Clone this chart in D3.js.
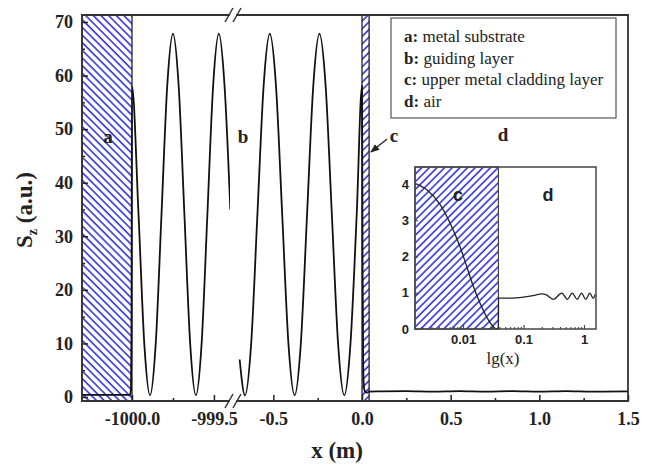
<!DOCTYPE html>
<html lang="en">
<head>
<meta charset="UTF-8">
<title>Sz profile across the waveguide</title>
<script src="https://cdn.jsdelivr.net/npm/d3@7/dist/d3.min.js"></script>
<style>
  body { margin: 0; background: #fff; }
  svg { display: block; }
  .serif { font-family: "Liberation Serif", "Times New Roman", serif; }
  .sans { font-family: "Liberation Sans", Arial, sans-serif; }
</style>
</head>
<body>
<svg id="mainsvg" width="649" height="465"></svg>
<script>
// ---- values ----
// left piece of the broken x axis (metal substrate + start of guiding layer)
const seg1X = [-1000.305, -1000.012, -1000.006, -1000.003, -1000.0, -999.96, -999.925, -999.89, -999.855,
  -999.82, -999.785, -999.75, -999.715, -999.68, -999.645, -999.61, -999.575, -999.54, -999.505, -999.47,
  -999.435, -999.40];
const seg1S = [0.4, 0.4, 1.5, 12, 58, 34, 10, 0.3, 10, 34, 58, 67.8, 58, 34, 10, 0.3, 10, 34, 58, 67.8, 58, 35];

// right piece (end of guiding layer, upper cladding, air)
const seg2X = [-0.69, -0.66, -0.625, -0.59, -0.555, -0.52, -0.485, -0.45, -0.415, -0.38, -0.345, -0.31,
  -0.275, -0.24, -0.205, -0.17, -0.135, -0.10, -0.065, -0.03, 0.0, 0.003, 0.007, 0.012, 0.02, 0.03, 0.04,
  0.1, 0.25, 0.4, 0.55, 0.7, 0.85, 1.0, 1.15, 1.3, 1.5];
const seg2S = [7, 0.3, 10, 34, 58, 67.8, 58, 34, 10, 0.3, 10, 34, 58, 67.8, 58, 34, 10, 0.3, 10, 34, 58,
  25, 5, 1.5, 0.9, 0.8, 1.0, 1.05, 1.1, 1.0, 1.1, 1.0, 1.1, 1.0, 1.1, 1.0, 1.05];

const layerA = [-1000.305, -1000.0];
const layerC = [0.0, 0.04];

const yMajor = [0, 10, 20, 30, 40, 50, 60, 70];
const yMinor = [5, 15, 25, 35, 45, 55, 65];
const seg1Major = [-1000.0, -999.5];
const seg1Minor = [-999.75];
const seg2Major = [-0.5, 0.0, 0.5, 1.0, 1.5];
const seg2Minor = [-0.25, 0.25, 0.75, 1.25];

const legendKeys = ['a:', 'b:', 'c:', 'd:'];
const legendNames = ['metal substrate', 'guiding layer', 'upper metal cladding layer', 'air'];

// inset, log x axis
const insetX = [0.00161, 0.00251, 0.00417, 0.0061, 0.0089, 0.0115, 0.0148, 0.0191, 0.0262, 0.0338, 0.0384,
  0.0385, 0.06, 0.1, 0.144, 0.2, 0.24, 0.31, 0.43, 0.53, 0.64, 0.77, 0.91, 1.07, 1.25, 1.42, 1.54];
const insetS = [4.02, 3.84, 3.43, 2.92, 2.27, 1.72, 1.17, 0.71, 0.25, 0.02, 0.0,
  0.85, 0.85, 0.88, 0.92, 0.97, 0.94, 0.82, 0.99, 0.82, 0.99, 0.82, 0.99, 0.82, 0.99, 0.85, 0.96];
const insetLayerC = [0.0016, 0.0384];
const insetMajorX = [0.01, 0.1, 1];
const insetMinorX = [0.002, 0.003, 0.004, 0.005, 0.006, 0.007, 0.008, 0.009,
  0.02, 0.03, 0.04, 0.05, 0.06, 0.07, 0.08, 0.09, 0.2, 0.3, 0.4, 0.5, 0.6, 0.7, 0.8, 0.9];
const insetMajorY = [0, 1, 2, 3, 4];

// ---- layout ----
const svg = d3.select('#mainsvg');
const frame = {left: 82, right: 628, top: 15, bottom: 401};
const breakL = 229, breakR = 237;
const blue = '#2727dc';
const ink = '#222';

const y = d3.scaleLinear().domain([-0.75, 71.3]).range([frame.bottom, frame.top]);
const x1 = d3.scaleLinear().domain([-1000.305, -999.408]).range([frame.left, breakL]);
const x2 = d3.scaleLinear().domain([-0.705, 1.5]).range([breakR, frame.right]);

// hatch patterns
const defs = svg.append('defs');
const hatch = (id, angle) => {
  const p = defs.append('pattern')
    .attr('id', id)
    .attr('patternUnits', 'userSpaceOnUse')
    .attr('width', 5.4).attr('height', 5.4)
    .attr('patternTransform', `rotate(${angle})`);
  p.append('rect').attr('width', 5.4).attr('height', 5.4).attr('fill', '#fff');
  p.append('line').attr('x1', 1).attr('y1', 0).attr('x2', 1).attr('y2', 5.4)
    .attr('stroke', blue).attr('stroke-width', 1.5);
};
hatch('hatchBack', -45);  // "\\\"
hatch('hatchFwd', 45);    // "///"

defs.append('clipPath').attr('id', 'clip1').append('rect')
  .attr('x', frame.left).attr('y', frame.top)
  .attr('width', breakL - frame.left + 1).attr('height', frame.bottom - frame.top);
defs.append('clipPath').attr('id', 'clip2').append('rect')
  .attr('x', breakR).attr('y', frame.top)
  .attr('width', frame.right - breakR).attr('height', frame.bottom - frame.top);

defs.append('marker').attr('id', 'arrow')
  .attr('viewBox', '0 0 10 10').attr('refX', 9).attr('refY', 5)
  .attr('markerWidth', 7).attr('markerHeight', 7).attr('orient', 'auto')
  .append('path').attr('d', 'M0,1 L10,5 L0,9 Z').attr('fill', ink);

// layers
svg.append('rect')
  .attr('x', x1(layerA[0])).attr('y', frame.top)
  .attr('width', x1(layerA[1]) - x1(layerA[0])).attr('height', frame.bottom - frame.top)
  .attr('fill', 'url(#hatchBack)').attr('stroke', ink).attr('stroke-width', 1.3);
svg.append('rect')
  .attr('x', x2(layerC[0])).attr('y', frame.top)
  .attr('width', x2(layerC[1]) - x2(layerC[0])).attr('height', frame.bottom - frame.top)
  .attr('fill', 'url(#hatchFwd)').attr('stroke', ink).attr('stroke-width', 1.3);

// Sz curve
const line1 = d3.line().x((d, i) => x1(seg1X[i])).y(d => y(d)).curve(d3.curveMonotoneX);
const line2 = d3.line().x((d, i) => x2(seg2X[i])).y(d => y(d)).curve(d3.curveMonotoneX);
svg.append('path').attr('d', line1(seg1S)).attr('clip-path', 'url(#clip1)')
  .attr('fill', 'none').attr('stroke', '#111').attr('stroke-width', 1.8);
svg.append('path').attr('d', line2(seg2S)).attr('clip-path', 'url(#clip2)')
  .attr('fill', 'none').attr('stroke', '#111').attr('stroke-width', 1.8);

// ticks (inward)
const tickFont = g => g.selectAll('text')
  .attr('class', 'serif').style('font-size', '18px').style('font-weight', 'bold').attr('fill', ink);
const clean = g => { g.select('.domain').remove(); g.selectAll('line').attr('stroke', ink).attr('stroke-width', 1.5); };

svg.append('g').attr('transform', `translate(${frame.left},0)`)
  .call(d3.axisLeft(y).tickValues(yMinor).tickSize(-3).tickFormat(''))
  .call(clean);
svg.append('g').attr('transform', `translate(${frame.left},0)`)
  .call(d3.axisLeft(y).tickValues(yMajor).tickSize(-6).tickPadding(9).tickFormat(d3.format('d')))
  .call(clean).call(tickFont);

[[x1, seg1Major, seg1Minor], [x2, seg2Major, seg2Minor]].forEach(([sc, maj, mnr]) => {
  svg.append('g').attr('transform', `translate(0,${frame.bottom})`)
    .call(d3.axisBottom(sc).tickValues(mnr).tickSize(-3).tickFormat(''))
    .call(clean);
  svg.append('g').attr('transform', `translate(0,${frame.bottom})`)
    .call(d3.axisBottom(sc).tickValues(maj).tickSize(-6).tickPadding(11).tickFormat(d => d.toFixed(1)))
    .call(clean).call(tickFont);
});

// frame with axis break
const frameLines = [
  [frame.left, frame.top, frame.left, frame.bottom],
  [frame.right, frame.top, frame.right, frame.bottom],
  [frame.left, frame.top, breakL, frame.top],
  [breakR, frame.top, frame.right, frame.top],
  [frame.left, frame.bottom, breakL, frame.bottom],
  [breakR, frame.bottom, frame.right, frame.bottom]
];
svg.append('g').selectAll('line').data(frameLines).join('line')
  .attr('x1', d => d[0]).attr('y1', d => d[1]).attr('x2', d => d[2]).attr('y2', d => d[3])
  .attr('stroke', '#333').attr('stroke-width', 1.8).attr('stroke-linecap', 'square');
const slashes = [];
[frame.top, frame.bottom].forEach(yy => [breakL, breakR].forEach(xx => slashes.push([xx, yy])));
svg.append('g').selectAll('line').data(slashes).join('line')
  .attr('x1', d => d[0] - 4).attr('y1', d => d[1] + 7)
  .attr('x2', d => d[0] + 4).attr('y2', d => d[1] - 7)
  .attr('stroke', '#333').attr('stroke-width', 1.5);

// axis titles
svg.append('text').attr('class', 'serif')
  .attr('transform', 'translate(32,210) rotate(-90)')
  .attr('text-anchor', 'middle').style('font-size', '23px').style('font-weight', 'bold').attr('fill', ink)
  .html('S<tspan dy="5" style="font-size:14px">z</tspan><tspan dy="-5"> (a.u.)</tspan>');
svg.append('text').attr('class', 'serif')
  .attr('x', 337).attr('y', 458).attr('text-anchor', 'middle')
  .style('font-size', '23px').style('font-weight', 'bold').attr('fill', ink)
  .text('x (m)');

// region labels
const regionText = [['a', 108, 143], ['b', 243, 143], ['c', 394, 142], ['d', 503, 141]];
svg.append('g').selectAll('text').data(regionText).join('text')
  .attr('class', 'serif').attr('x', d => d[1]).attr('y', d => d[2]).attr('text-anchor', 'middle')
  .style('font-size', '19px').style('font-weight', 'bold').attr('fill', ink)
  .text(d => d[0]);
svg.append('line')
  .attr('x1', 387).attr('y1', 139).attr('x2', 371).attr('y2', 152)
  .attr('stroke', ink).attr('stroke-width', 1.3).attr('marker-end', 'url(#arrow)');

// legend
const legend = svg.append('g');
legend.append('rect').attr('x', 391).attr('y', 18).attr('width', 225).attr('height', 100)
  .attr('fill', '#fff').attr('stroke', '#555').attr('stroke-width', 1.2);
legendKeys.forEach((k, i) => {
  const t = legend.append('text').attr('class', 'serif')
    .attr('x', 404).attr('y', 42 + i * 21.7)
    .style('font-size', '17px').attr('fill', ink);
  t.append('tspan').style('font-weight', 'bold').text(k);
  t.append('tspan').text(' ' + legendNames[i]);
});

// ---- inset ----
const inset = {left: 415, right: 596, top: 167, bottom: 329};
const xi = d3.scaleLog().domain([0.0016, 1.58]).range([inset.left, inset.right]);
const yi = d3.scaleLinear().domain([0, 4.47]).range([inset.bottom, inset.top]);
const ig = svg.append('g');
ig.append('rect').attr('x', inset.left).attr('y', inset.top)
  .attr('width', inset.right - inset.left).attr('height', inset.bottom - inset.top).attr('fill', '#fff');
ig.append('rect')
  .attr('x', xi(insetLayerC[0])).attr('y', inset.top)
  .attr('width', xi(insetLayerC[1]) - xi(insetLayerC[0])).attr('height', inset.bottom - inset.top)
  .attr('fill', 'url(#hatchFwd)').attr('stroke', '#444').attr('stroke-width', 1.2);
const lineI = d3.line().x((d, i) => xi(insetX[i])).y(d => yi(d)).curve(d3.curveMonotoneX);
ig.append('path').attr('d', lineI(insetS))
  .attr('fill', 'none').attr('stroke', '#222').attr('stroke-width', 1.3);

const insetTickFont = g => g.selectAll('text')
  .attr('class', 'sans').style('font-size', '13px').style('font-weight', 'bold').attr('fill', ink);
const cleanI = g => { g.select('.domain').remove(); g.selectAll('line').attr('stroke', '#444').attr('stroke-width', 1.1); };
ig.append('g').attr('transform', `translate(0,${inset.bottom})`)
  .call(d3.axisBottom(xi).tickValues(insetMinorX).tickSize(-2).tickFormat(''))
  .call(cleanI);
ig.append('g').attr('transform', `translate(0,${inset.bottom})`)
  .call(d3.axisBottom(xi).tickValues(insetMajorX).tickSize(-4).tickPadding(6).tickFormat(d => String(d)))
  .call(cleanI).call(insetTickFont);
ig.append('g').attr('transform', `translate(${inset.left},0)`)
  .call(d3.axisLeft(yi).tickValues(insetMajorY).tickSize(-3).tickPadding(6).tickFormat(d3.format('d')))
  .call(cleanI).call(insetTickFont);
ig.append('rect').attr('x', inset.left).attr('y', inset.top)
  .attr('width', inset.right - inset.left).attr('height', inset.bottom - inset.top)
  .attr('fill', 'none').attr('stroke', '#444').attr('stroke-width', 1.5);

const insetText = [['c', 458, 201], ['d', 548, 201]];
ig.selectAll('text.lab').data(insetText).join('text')
  .attr('class', 'lab sans').attr('x', d => d[1]).attr('y', d => d[2]).attr('text-anchor', 'middle')
  .style('font-size', '18px').style('font-weight', 'bold').attr('fill', ink)
  .text(d => d[0]);
ig.append('text').attr('class', 'serif')
  .attr('x', 503).attr('y', 364).attr('text-anchor', 'middle')
  .style('font-size', '17px').attr('fill', ink).text('lg(x)');
</script>
</body>
</html>
